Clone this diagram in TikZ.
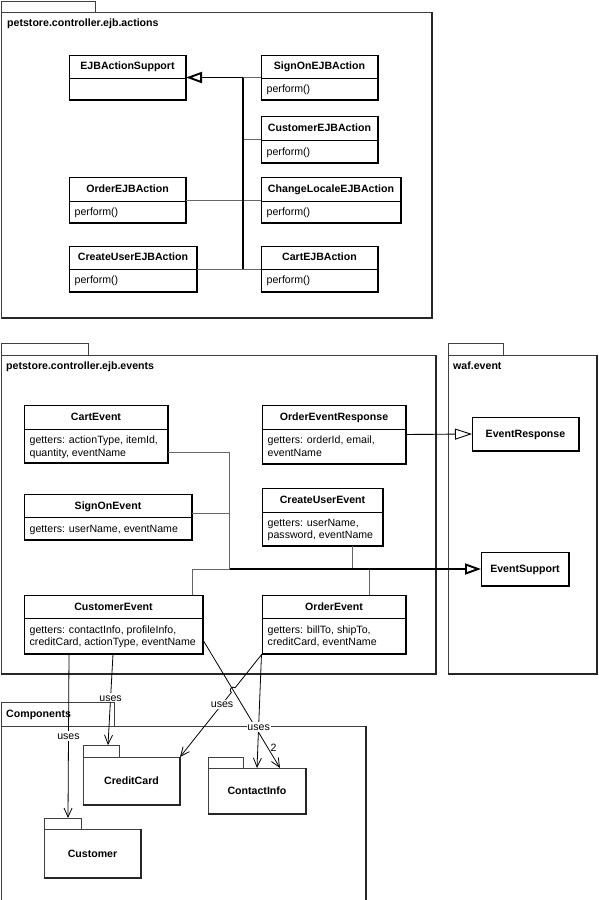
\documentclass[tikz,border=0pt]{standalone}
\usepackage{fontspec}
\setmainfont{Liberation Sans}
\usetikzlibrary{arrows.meta,fit,calc}
\newcommand{\dfont}{\fontsize{10.6}{12.7}\selectfont}
\newcommand{\umlbox}[6]{%
  \node[cls, fit={(#2,#3) (#4,#5)}] (#1) {};
  \draw[clsheavy] (#4,#3) -- (#4,#5) -- (#2,#5);
  \draw[clsdiv] (#2,#6) -- (#4,#6);
}
\newcommand{\umlboxsingle}[5]{%
  \node[cls, fit={(#2,#3) (#4,#5)}] (#1) {};
  \draw[clsheavy] (#4,#3) -- (#4,#5) -- (#2,#5);
}
\newcommand{\pkgfolder}[7]{%
  \node[pkgbox, fit={(#2,#3) (#4,#5)}] (#1tab) {};
  \node[pkgbox, fit={(#2,#5) (#6,#7)}] (#1) {};
  \draw[pkgheavy] (#6,#5) -- (#6,#7) -- (#2,#7);
}
\begin{document}
\begin{tikzpicture}[x=1pt,y=-1pt,
  font=\dfont,
  cls/.style={draw=black, line width=0.9pt, inner sep=0pt, outer sep=0pt},
  clsheavy/.style={draw=black, line width=1.5pt},
  clsdiv/.style={draw=black, line width=0.9pt},
  pkgbox/.style={draw=black!75, line width=0.9pt, inner sep=0pt, outer sep=0pt},
  pkgheavy/.style={draw=black!85, line width=1.7pt},
  ttl/.style={font=\dfont\bfseries, inner sep=0pt, text height=7.6pt, text depth=0pt},
  pkname/.style={font=\dfont\bfseries, anchor=west, inner sep=0pt, text height=7.6pt, text depth=0pt},
  txt/.style={anchor=west, inner sep=0pt, text height=7.6pt, text depth=0pt},
  conn/.style={draw=black!60, line width=1pt},
  busline/.style={draw=black, line width=1.1pt},
  genthick/.style={draw=black, line width=1.9pt, -{Triangle[open, length=16pt, width=11pt]}},
  gen/.style={draw=black, line width=0.9pt, -{Triangle[open, length=17pt, width=11pt]}},
  uses/.style={draw=black, line width=0.8pt, -{Straight Barb[length=9pt, width=8pt]}},
  ulbl/.style={fill=white, inner sep=0.8pt, text height=7.6pt, text depth=0pt},
  mult/.style={inner sep=2.5pt, text height=7.6pt, text depth=0pt}
]
\useasboundingbox (0,0) rectangle (598,900);

% ---------- package petstore.controller.ejb.actions ----------
\pkgfolder{pkA}{1.5}{1.5}{95}{12}{432}{318}
\node[pkname] (pkAl) at (7,23) {petstore.controller.ejb.actions};

\umlbox{ejbas}{69}{55}{186}{100}{78}
\node[ttl] (ejbast) at (127.5,66) {EJBActionSupport};

\umlbox{signon}{261}{55}{378}{100}{78}
\node[ttl] (signont) at (319.5,66) {SignOnEJBAction};
\node[txt] (signonb) at (266.5,89) {perform()};

\umlbox{custejb}{261}{116}{378}{163}{140}
\node[ttl] (custejbt) at (319.5,127.5) {CustomerEJBAction};
\node[txt] (custejbb) at (266.5,151.5) {perform()};

\umlbox{orderejb}{69}{177.5}{186}{223}{201}
\node[ttl] (orderejbt) at (127.5,189) {OrderEJBAction};
\node[txt] (orderejbb) at (74.5,212) {perform()};

\umlbox{chloc}{261}{177.5}{401}{223}{201}
\node[ttl] (chloct) at (331,189) {ChangeLocaleEJBAction};
\node[txt] (chlocb) at (266.5,212) {perform()};

\umlbox{createejb}{69}{246}{197}{292}{269}
\node[ttl] (createejbt) at (133,257) {CreateUserEJBAction};
\node[txt] (createejbb) at (74.5,280) {perform()};

\umlbox{cartejb}{261}{246}{378}{292}{269}
\node[ttl] (cartejbt) at (319.5,257) {CartEJBAction};
\node[txt] (cartejbb) at (266.5,280) {perform()};

\coordinate (busT) at (243,77.5);
\coordinate (busB) at (243,269);
\draw[conn] (signon.west) -- (signon.west -| busT);
\draw[conn] (custejb.west) -- (custejb.west -| busT);
\draw[conn] (orderejb.east) -- (chloc.west);
\draw[conn] (createejb.east) -- (cartejb.west);
\draw[busline] (busT) -- (busB);
\draw[genthick] (busT) -- (ejbas.east);

% ---------- package petstore.controller.ejb.events ----------
\pkgfolder{pkB}{1}{343}{88}{355}{436}{674}
\node[pkname] (pkBl) at (6,366) {petstore.controller.ejb.events};

% ---------- package waf.event ----------
\pkgfolder{pkC}{448}{343}{503}{355}{597}{674}
\node[pkname] (pkCl) at (453,366) {waf.event};

\umlbox{cartev}{24}{405}{168}{463}{429}
\node[ttl] (cartevt) at (96,417) {CartEvent};
\node[txt] (cartevb1) at (29.5,440) {getters: actionType, itemId,};
\node[txt] (cartevb2) at (29.5,453) {quantity, eventName};

\umlbox{oer}{262}{405}{406}{464}{429}
\node[ttl] (oert) at (334,417) {OrderEventResponse};
\node[txt] (oerb1) at (267.5,440) {getters: orderId, email,};
\node[txt] (oerb2) at (267.5,453) {eventName};

\umlboxsingle{evresp}{472}{417}{579}{451}
\node[ttl] (evrespt) at (525.5,434) {EventResponse};

\umlbox{signev}{24}{494}{192}{540}{517}
\node[ttl] (signevt) at (108,505.5) {SignOnEvent};
\node[txt] (signevb) at (29.5,528.5) {getters: userName, eventName};

\umlbox{cuev}{262}{488}{383}{546}{512}
\node[ttl] (cuevt) at (322.5,500) {CreateUserEvent};
\node[txt] (cuevb1) at (267.5,523) {getters: userName,};
\node[txt] (cuevb2) at (267.5,535) {password, eventName};

\umlboxsingle{evsup}{481}{552}{569}{586}
\node[ttl] (evsupt) at (525,569) {EventSupport};

\umlbox{custev}{24}{595}{203}{654}{618.5}
\node[ttl] (custevt) at (113.5,607) {CustomerEvent};
\node[txt] (custevb1) at (29.5,630) {getters: contactInfo, profileInfo,};
\node[txt] (custevb2) at (29.5,642) {creditCard, actionType, eventName};

\umlbox{oev}{262}{595}{406}{654}{618.5}
\node[ttl] (oevt) at (334,607) {OrderEvent};
\node[txt] (oevb1) at (267.5,630) {getters: billTo, shipTo,};
\node[txt] (oevb2) at (267.5,642) {creditCard, eventName};

\coordinate (evbusB) at (229.5,569);
\draw[conn] ([yshift=-18pt]cartev.east) -| (evbusB);
\draw[conn] ([yshift=4pt]signev.east) -- ([yshift=4pt]signev.east -| evbusB);
\draw[conn] ([xshift=30pt]cuev.south) -- ([xshift=30pt]cuev.south |- evbusB);
\draw[conn] ([xshift=35.5pt]oev.north) -- ([xshift=35.5pt]oev.north |- evbusB);
\draw[conn] ([xshift=78.5pt]custev.north) |- (evbusB);
\draw[genthick] (evbusB) -- (evsup.west);
\draw[gen] (oer.east) -- (evresp.west);

% ---------- package Components ----------
\pkgfolder{pkD}{1}{702}{114}{726}{366}{901}
\node[pkname] (pkDl) at (6,713.5) {Components};

\pkgfolder{ccpk}{83}{745}{119}{757}{180}{805}
\node[ttl] (ccpkl) at (131.5,781) {CreditCard};
\pkgfolder{cipk}{208}{757}{243}{768}{306}{814}
\node[ttl] (cipkl) at (257,791) {ContactInfo};
\pkgfolder{cupk}{44}{818}{81}{829}{141}{878}
\node[ttl] (cupkl) at (92.5,853.5) {Customer};

% ---------- dependencies ----------
\draw[uses] ([xshift=45pt]custev.south west) -- node[ulbl, pos=0.5] {uses} ([xshift=24pt]cupktab.north west);
\draw[uses] ([xshift=89pt]custev.south west) -- node[ulbl, pos=0.48] {uses} ([xshift=25pt]ccpktab.north west);
\draw[uses] ([yshift=-15.5pt]custev.east) -- node[mult, pos=0.84, anchor=west] {2} ([xshift=72pt]cipk.north west);
\coordinate (h1) at ($(oev.south west)!0.328!(ccpk.north east)$);
\coordinate (h2) at ($(oev.south west)!0.374!(ccpk.north east)$);
\coordinate (c1) at ($(h1)!4pt!-90:(ccpk.north east)$);
\coordinate (c2) at ($(h2)!4pt!-90:(ccpk.north east)$);
\draw[uses] (oev.south west) -- (h1) .. controls (c1) and (c2) .. (h2) -- node[ulbl, pos=0.18] {uses} (ccpk.north east);
\draw[uses] ([xshift=-0.5pt]oev.south west) -- node[ulbl, pos=0.64] {uses} ([xshift=49pt]cipk.north west);
\end{tikzpicture}
\end{document}
